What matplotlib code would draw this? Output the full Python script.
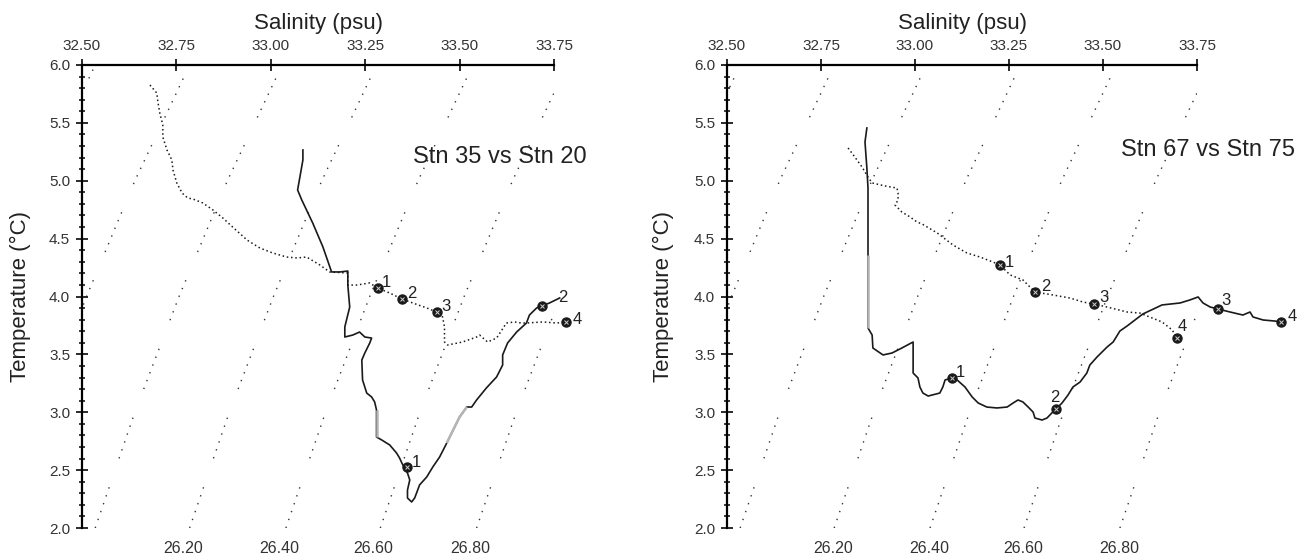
import matplotlib.pyplot as plt
from matplotlib.ticker import MultipleLocator
import numpy as np

plt.rcParams['font.family'] = ['Liberation Sans', 'DejaVu Sans']

# ---- isopycnals (sigma-t), salinity read at T = 2..6 degC ----
sig_levels = [25.6, 25.8, 26.0, 26.2, 26.4, 26.6, 26.8]
sig_temp = [2.0, 3.0, 4.0, 5.0, 6.0]
sig_sal = [
    [32.040, 32.145, 32.262, 32.390, 32.535],
    [32.290, 32.395, 32.512, 32.640, 32.785],
    [32.535, 32.640, 32.757, 32.885, 33.030],
    [32.785, 32.890, 33.007, 33.135, 33.280],
    [33.040, 33.145, 33.262, 33.390, 33.535],
    [33.290, 33.395, 33.512, 33.640, 33.785],
    [33.545, 33.650, 33.767, 33.895, 34.040],
]
sig_labels = ['26.20', '26.40', '26.60', '26.80']

sal_ticks = [32.50, 32.75, 33.00, 33.25, 33.50, 33.75]
temp_ticks = [2.0, 2.5, 3.0, 3.5, 4.0, 4.5, 5.0, 5.5, 6.0]

# ---- left panel: Stn 35 vs Stn 20 ----
l_solid_sal = [33.085, 33.085, 33.071, 33.082, 33.111, 33.138, 33.161, 33.183, 33.204, 33.204,
               33.209, 33.196, 33.196, 33.217, 33.235, 33.249, 33.267, 33.262, 33.249, 33.241,
               33.243, 33.254, 33.267, 33.275, 33.280, 33.280, 33.294, 33.315, 33.333, 33.341,
               33.347, 33.354, 33.362, 33.368, 33.362, 33.362, 33.373, 33.381, 33.386, 33.394,
               33.413, 33.429, 33.447, 33.466, 33.479, 33.500, 33.519, 33.532, 33.545, 33.571,
               33.598, 33.614, 33.614, 33.627, 33.651, 33.677, 33.685, 33.704, 33.717, 33.738,
               33.765]
l_solid_temp = [5.266, 5.179, 4.920, 4.834, 4.635, 4.428, 4.212, 4.212, 4.220, 4.099,
                3.909, 3.737, 3.650, 3.667, 3.693, 3.650, 3.641, 3.598, 3.512, 3.451,
                3.279, 3.166, 3.132, 3.089, 3.019, 2.786, 2.760, 2.717, 2.648, 2.605,
                2.562, 2.518, 2.475, 2.415, 2.328, 2.259, 2.225, 2.259, 2.302, 2.372,
                2.441, 2.527, 2.613, 2.734, 2.821, 2.959, 3.045, 3.045, 3.106, 3.210,
                3.305, 3.408, 3.495, 3.598, 3.693, 3.771, 3.840, 3.901, 3.918, 3.944,
                3.987]
l_solid_mark_sal = [33.360, 33.717]
l_solid_mark_temp = [2.527, 3.918]
l_solid_mark_lab = ['1', '2']

l_dot_sal = [32.680, 32.698, 32.701, 32.706, 32.714, 32.714, 32.725, 32.738, 32.741, 32.751,
             32.765, 32.780, 32.794, 32.820, 32.847, 32.873, 32.899, 32.937, 32.971, 33.005,
             33.042, 33.069, 33.095, 33.130, 33.156, 33.204, 33.204, 33.228, 33.262, 33.283,
             33.315, 33.347, 33.376, 33.413, 33.439, 33.455, 33.460, 33.460, 33.468, 33.508,
             33.545, 33.553, 33.574, 33.598, 33.624, 33.646, 33.664, 33.677, 33.720, 33.757,
             33.783]
l_dot_temp = [5.827, 5.758, 5.680, 5.585, 5.482, 5.378, 5.266, 5.179, 5.093, 4.981,
              4.894, 4.851, 4.842, 4.808, 4.747, 4.678, 4.600, 4.488, 4.419, 4.376,
              4.341, 4.333, 4.341, 4.272, 4.212, 4.203, 4.099, 4.099, 4.117, 4.073,
              4.030, 3.978, 3.944, 3.901, 3.866, 3.823, 3.737, 3.607, 3.581, 3.607,
              3.650, 3.667, 3.607, 3.641, 3.771, 3.780, 3.771, 3.771, 3.780, 3.771,
              3.780]
l_dot_mark_sal = [33.283, 33.347, 33.439, 33.783]
l_dot_mark_temp = [4.073, 3.978, 3.866, 3.780]
l_dot_mark_lab = ['1', '2', '3', '4']

# ---- right panel: Stn 67 vs Stn 75 ----
r_solid_sal = [32.872, 32.867, 32.872, 32.875, 32.875, 32.875, 32.875, 32.875, 32.886, 32.888,
               32.915, 32.939, 32.965, 32.995, 32.995, 32.995, 33.008, 33.013, 33.021, 33.035,
               33.066, 33.074, 33.080, 33.098, 33.112, 33.133, 33.152, 33.168, 33.191, 33.218,
               33.245, 33.261, 33.274, 33.287, 33.301, 33.314, 33.319, 33.338, 33.351, 33.364,
               33.375, 33.391, 33.407, 33.420, 33.439, 33.457, 33.465, 33.484, 33.511, 33.527,
               33.545, 33.564, 33.606, 33.657, 33.705, 33.731, 33.753, 33.766, 33.785, 33.806,
               33.838, 33.872, 33.891, 33.899, 33.926, 33.957, 33.973]
r_solid_temp = [5.456, 5.335, 5.110, 4.937, 4.704, 4.359, 4.056, 3.728, 3.667, 3.555,
                3.495, 3.512, 3.555, 3.607, 3.495, 3.339, 3.296, 3.218, 3.166, 3.140,
                3.166, 3.218, 3.279, 3.296, 3.279, 3.218, 3.132, 3.080, 3.045, 3.037,
                3.045, 3.080, 3.106, 3.089, 3.045, 3.002, 2.950, 2.933, 2.950, 2.994,
                3.028, 3.080, 3.149, 3.218, 3.261, 3.339, 3.408, 3.477, 3.564, 3.607,
                3.702, 3.745, 3.849, 3.927, 3.944, 3.970, 3.996, 3.944, 3.909, 3.892,
                3.866, 3.840, 3.866, 3.823, 3.797, 3.788, 3.780]
r_solid_mark_sal = [33.098, 33.375, 33.806, 33.973]
r_solid_mark_temp = [3.296, 3.028, 3.892, 3.780]
r_solid_mark_lab = ['1', '2', '3', '4']

r_dot_sal = [32.822, 32.840, 32.859, 32.875, 32.886, 32.920, 32.952, 32.955, 32.955, 32.947,
             32.965, 32.987, 33.005, 33.019, 33.059, 33.101, 33.138, 33.173, 33.207, 33.226,
             33.253, 33.287, 33.319, 33.367, 33.412, 33.447, 33.476, 33.511, 33.564, 33.598,
             33.644, 33.657, 33.684, 33.697]
r_dot_temp = [5.283, 5.205, 5.119, 5.032, 4.981, 4.955, 4.937, 4.894, 4.834, 4.790,
              4.730, 4.687, 4.644, 4.626, 4.549, 4.445, 4.376, 4.341, 4.298, 4.272,
              4.186, 4.143, 4.039, 4.013, 3.987, 3.952, 3.935, 3.909, 3.866, 3.857,
              3.797, 3.780, 3.711, 3.641]
r_dot_mark_sal = [33.226, 33.319, 33.476, 33.697]
r_dot_mark_temp = [4.272, 4.039, 3.935, 3.641]
r_dot_mark_lab = ['1', '2', '3', '4']

INK = '#1a1a1a'


def draw_markers(ax, xs, ys, labs, offsets):
    ax.plot(xs, ys, 'o', ms=6.5, mfc=INK, mec=INK, clip_on=False, zorder=5)
    ax.plot(xs, ys, 'x', ms=2.8, mec='#cfcfcf', mew=0.7, clip_on=False, zorder=6)
    for x, y, t, off in zip(xs, ys, labs, offsets):
        ax.annotate(t, (x, y), xytext=off, textcoords='offset points',
                    ha='center', va='center', fontsize=12, color='#222',
                    annotation_clip=False)


def faded(ax, sal, temp, i0, i1):
    # scanned-looking pale stretch of a cast
    ax.plot(sal[i0:i1 + 1], temp[i0:i1 + 1], color='#b5b5b5', lw=1.8,
            clip_on=False, zorder=4, solid_capstyle='butt')


def setup_panel(ax, label_shift, ylab_x):
    ax.set_xlim(32.5, 33.75)
    ax.set_ylim(2.0, 6.0)
    for s in ['right', 'bottom']:
        ax.spines[s].set_visible(False)
    ax.spines['top'].set_linewidth(1.6)
    ax.spines['left'].set_linewidth(1.6)

    ax.xaxis.tick_top()
    ax.set_xticks(sal_ticks)
    ax.set_xticklabels(['%.2f' % v for v in sal_ticks])
    ax.set_yticks(temp_ticks)
    ax.set_yticklabels(['%.1f' % v for v in temp_ticks])
    ax.yaxis.set_minor_locator(MultipleLocator(0.1))
    ax.tick_params(axis='x', which='major', direction='inout', length=9, width=1.3,
                   labelsize=11, pad=4, colors=INK, labelcolor='#333')
    ax.tick_params(axis='y', which='major', direction='inout', length=9, width=1.3,
                   labelsize=11, pad=4, colors=INK, labelcolor='#333')
    ax.tick_params(axis='y', which='minor', direction='inout', length=4, width=1.2, colors=INK)

    ax.xaxis.set_label_position('top')
    ax.set_xlabel('Salinity (psu)', fontsize=16, color='#222', labelpad=7)
    ax.set_ylabel('Temperature (\u00b0C)', fontsize=16, color='#222')
    ax.yaxis.set_label_coords(ylab_x, 0.5)

    # isopycnals
    for sal in sig_sal:
        ax.plot(sal, sig_temp, color='#333', lw=1.0,
                linestyle=(0, (1, 5, 1, 5, 1, 5, 1, 5, 1, 5, 1, 22)), zorder=1)
    for sal, lab in zip(sig_sal[3:], sig_labels):
        ax.text(sal[0] - label_shift, -0.045, lab, transform=ax.get_xaxis_transform(),
                ha='center', va='center', fontsize=11.5, color='#333')


fig = plt.figure(figsize=(13.14, 5.57), dpi=100)
axL = fig.add_axes([82 / 1314, 29 / 557, 472 / 1314, 463 / 557])
axR = fig.add_axes([727 / 1314, 29 / 557, 470 / 1314, 463 / 557])

# left panel
setup_panel(axL, 0.018, -0.108)
axL.plot(l_solid_sal, l_solid_temp, color=INK, lw=1.2, clip_on=False, zorder=3)
faded(axL, l_solid_sal, l_solid_temp, 24, 25)
faded(axL, l_solid_sal, l_solid_temp, 43, 46)
axL.plot(l_dot_sal, l_dot_temp, color=INK, lw=1.1, linestyle=(0, (1, 1.8)),
         clip_on=False, zorder=3)
draw_markers(axL, l_solid_mark_sal, l_solid_mark_temp, l_solid_mark_lab,
             [(7, 3), (15, 6)])
draw_markers(axL, l_dot_mark_sal, l_dot_mark_temp, l_dot_mark_lab,
             [(6, 4), (7, 4), (7, 4), (8, 2)])
axL.text(33.376, 5.205, 'Stn 35 vs Stn 20', fontsize=17, color='#222',
         ha='left', va='center', clip_on=False)

# right panel
setup_panel(axR, 0.002, -0.112)
axR.plot(r_solid_sal, r_solid_temp, color=INK, lw=1.2, clip_on=False, zorder=3)
faded(axR, r_solid_sal, r_solid_temp, 5, 7)
axR.plot(r_dot_sal, r_dot_temp, color=INK, lw=1.1, linestyle=(0, (1, 1.8)),
         clip_on=False, zorder=3)
draw_markers(axR, r_solid_mark_sal, r_solid_mark_temp, r_solid_mark_lab,
             [(6, 4), (-1, 8), (6, 6), (8, 4)])
draw_markers(axR, r_dot_mark_sal, r_dot_mark_temp, r_dot_mark_lab,
             [(7, 2), (8, 4), (7, 5), (4, 8)])
axR.text(33.548, 5.266, 'Stn 67 vs Stn 75', fontsize=17, color='#222',
         ha='left', va='center', clip_on=False)

fig.savefig('out.png', dpi=100)
